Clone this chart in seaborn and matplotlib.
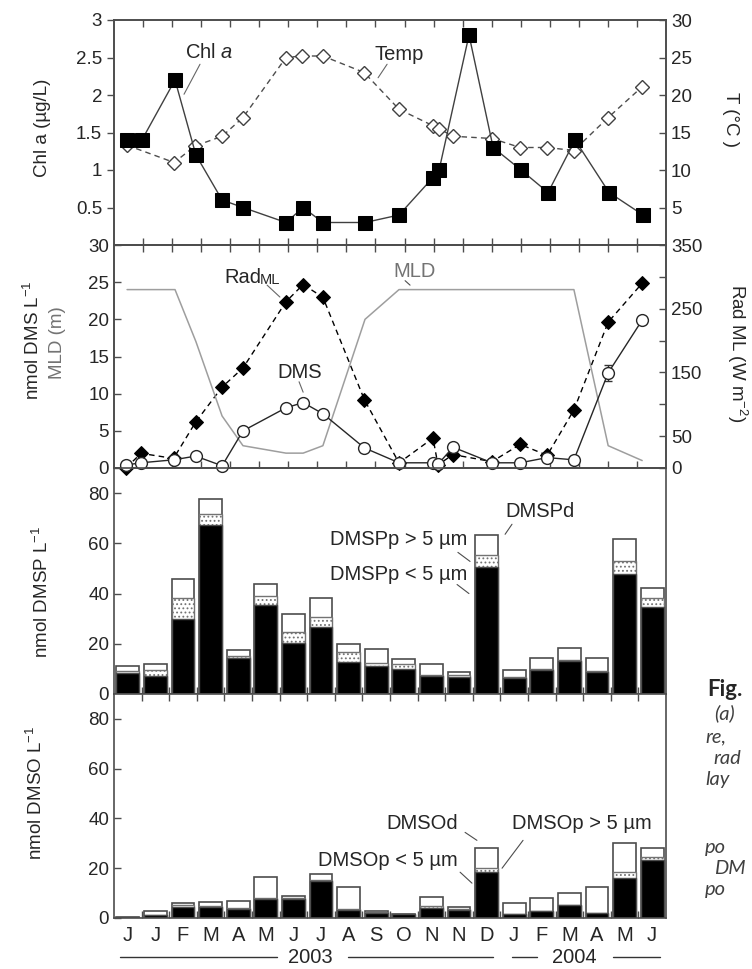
import matplotlib
matplotlib.use("Agg")
import matplotlib.pyplot as plt
import seaborn as sns
from matplotlib.lines import Line2D

sns.set_style("ticks")
plt.rcParams["font.family"] = ["Liberation Sans", "DejaVu Sans"]
plt.rcParams["mathtext.fontset"] = "custom"
plt.rcParams["mathtext.rm"] = "Liberation Sans"
plt.rcParams["mathtext.it"] = "Liberation Sans:italic"
plt.rcParams["hatch.linewidth"] = 0.8

# ---- panel a/b: sampling time in month units (axis 0..19) ----
chl_t = [0.45, 0.96, 2.10, 2.82, 3.72, 4.44, 5.92, 6.51, 7.19, 8.64,
         9.81, 10.98, 11.19, 12.22, 13.05, 14.01, 14.94, 15.87, 17.04, 18.21]
chl = [1.4, 1.4, 2.2, 1.2, 0.6, 0.5, 0.3, 0.5, 0.3, 0.3,
       0.4, 0.9, 1.0, 2.8, 1.3, 1.0, 0.7, 1.4, 0.7, 0.4]

temp_t = [0.45, 2.07, 2.79, 3.72, 4.44, 5.92, 6.47, 7.19, 8.61, 9.81,
          10.98, 11.19, 11.67, 13.01, 13.98, 14.91, 15.83, 17.01, 18.18]
temp = [13.3, 11.0, 13.2, 14.5, 17.0, 25.0, 25.2, 25.2, 23.0, 18.1,
        15.9, 15.5, 14.5, 14.2, 13.0, 13.0, 12.6, 17.0, 21.1]

samp_t = [0.41, 0.93, 2.05, 2.81, 3.72, 4.44, 5.92, 6.51, 7.19, 8.62,
          9.81, 10.98, 11.15, 11.67, 13.01, 13.98, 14.91, 15.83, 17.01, 18.18]
rad_ml = [0, 23, 15, 72, 127, 157, 261, 288, 268, 107,
          8, 47, 5, 21, 10, 37, 20, 91, 229, 290]
dms = [0.4, 0.7, 1.1, 1.6, 0.3, 5.0, 8.1, 8.8, 7.3, 2.7,
       0.7, 0.7, 0.5, 2.8, 0.7, 0.7, 1.4, 1.1, 12.8, 19.9]
dms_err = [0, 0, 0, 0, 0, 0, 0, 0, 0, 0,
           0, 0, 0, 0, 0, 0, 0, 0, 1.1, 0]

mld_t = [0.45, 2.10, 2.82, 3.72, 4.44, 5.92, 6.51, 7.19, 8.64, 9.81, 15.83, 17.01, 18.18]
mld = [24, 24, 17, 7, 3, 2, 2, 3, 20, 24, 24, 3, 1]

# ---- panel c/d: one bar per sampling date ----
months = ["J", "J", "F", "M", "A", "M", "J", "J", "A", "S",
          "O", "N", "N", "D", "J", "F", "M", "A", "M", "J"]

dmsp_small = [8.4, 7.2, 30.0, 67.2, 14.4, 35.6, 20.4, 26.8, 12.8, 11.2,
              10.0, 7.2, 6.8, 50.4, 6.4, 9.6, 13.2, 8.8, 47.6, 34.8]
dmsp_large = [0.6, 2.4, 8.4, 4.4, 0.6, 3.6, 4.4, 4.0, 4.0, 1.2,
              2.0, 0.4, 0.8, 4.8, 0.4, 0.3, 0.3, 0.3, 5.2, 3.6]
dmsp_d = [2.2, 2.4, 7.4, 6.0, 2.6, 4.8, 7.2, 7.6, 3.2, 5.6,
          2.0, 4.4, 1.2, 8.0, 2.8, 4.5, 4.9, 5.3, 8.8, 4.0]

dmso_small = [0.3, 1.2, 4.4, 4.4, 3.6, 7.6, 7.6, 14.8, 3.2, 2.0,
              1.5, 4.0, 3.2, 18.4, 1.6, 2.8, 5.2, 2.0, 16.0, 23.2]
dmso_large = [0.0, 0.2, 0.8, 0.6, 0.3, 0.3, 0.6, 0.3, 0.3, 0.3,
              0.0, 0.8, 0.4, 1.6, 0.2, 0.2, 0.2, 0.2, 2.4, 1.2]
dmso_d = [0.0, 1.4, 0.8, 1.4, 2.9, 8.5, 0.6, 2.5, 8.9, 0.5,
          0.3, 3.6, 0.8, 8.0, 4.2, 5.0, 4.6, 10.2, 11.6, 3.6]

FS = 13.5
EDGE = "0.3"

fig = plt.figure(figsize=(7.52, 9.69), dpi=100)


def add_panel(top, bottom):
    return fig.add_axes([114 / 752, 1 - bottom / 969, 552 / 752, (bottom - top) / 969])


ax1 = add_panel(20, 245)
ax2 = add_panel(245, 468)
ax3 = add_panel(468, 694)
ax4 = add_panel(694, 918)
ax1t = ax1.twinx()
ax2t = ax2.twinx()

# ---------------- panel 1: Chl a and temperature ----------------
sns.lineplot(x=temp_t, y=temp, ax=ax1t, color="0.3", lw=1, linestyle=(0, (4, 3)),
             marker="D", markersize=7, markerfacecolor="white", markeredgecolor="0.25",
             markeredgewidth=1, estimator=None, sort=False)
sns.lineplot(x=chl_t, y=chl, ax=ax1, color="0.25", lw=1, marker="s", markersize=9.5,
             markerfacecolor="black", markeredgecolor="black", estimator=None, sort=False)
ax1.set_zorder(ax1t.get_zorder() + 1)
ax1.patch.set_visible(False)

ax1.set_ylim(0, 3)
ax1.set_yticks([0.5, 1, 1.5, 2, 2.5, 3], ["0.5", "1", "1.5", "2", "2.5", "3"])
ax1t.set_ylim(0, 30)
ax1t.set_yticks([5, 10, 15, 20, 25, 30])
ax1.set_ylabel("Chl a (µg/L)", fontsize=FS)
ax1.yaxis.set_label_coords(-0.114, 0.52)
ax1t.set_ylabel("T (°C )", fontsize=FS, rotation=270, va="center")
ax1t.yaxis.set_label_coords(1.116, 0.556)

ax1.text(3.27, 2.57, "Chl $a$", fontsize=14.5, ha="center", va="center")
ax1.plot([2.96, 2.41], [2.41, 2.01], color="0.4", lw=0.8)
ax1.text(9.81, 2.54, "Temp", fontsize=14.5, ha="center", va="center")
ax1.plot([9.40, 9.09], [2.41, 2.23], color="0.4", lw=0.8)

# ---------------- panel 2: DMS, Rad ML, MLD ----------------
sns.lineplot(x=mld_t, y=mld, ax=ax2, color="0.62", lw=1.1, estimator=None, sort=False)
sns.lineplot(x=samp_t, y=rad_ml, ax=ax2t, color="black", lw=1, linestyle=(0, (4, 3)),
             marker="D", markersize=7, markerfacecolor="black", markeredgecolor="black",
             estimator=None, sort=False, clip_on=False)
err_x = [t for t, e in zip(samp_t, dms_err) if e > 0]
err_y = [v for v, e in zip(dms, dms_err) if e > 0]
err_e = [e for e in dms_err if e > 0]
ax2.errorbar(err_x, err_y, yerr=err_e, fmt="none", ecolor="0.2", elinewidth=1, capsize=3)
sns.lineplot(x=samp_t, y=dms, ax=ax2, color="0.15", lw=1, marker="o", markersize=8.5,
             markerfacecolor="white", markeredgecolor="0.15", markeredgewidth=1,
             estimator=None, sort=False, clip_on=False)
ax2.set_zorder(ax2t.get_zorder() + 1)
ax2.patch.set_visible(False)

ax2.set_ylim(0, 30)
ax2.set_yticks(range(0, 31, 5))
ax2t.set_ylim(0, 350)
ax2t.set_yticks(range(0, 351, 50), ["0", "50", "", "150", "", "250", "", "350"])
ax2.text(-0.147, 0.574, "nmol DMS L$^{-1}$", transform=ax2.transAxes, rotation=90,
         fontsize=FS, ha="center", va="center")
ax2.text(-0.103, 0.56, "MLD (m)", transform=ax2.transAxes, rotation=90,
         fontsize=FS, ha="center", va="center", color="0.45")
ax2t.set_ylabel("Rad ML (W m$^{-2}$)", fontsize=FS, rotation=270, va="center")
ax2t.yaxis.set_label_coords(1.128, 0.516)

ax2.text(4.42, 25.6, "Rad", fontsize=14.5, ha="center", va="center")
ax2.text(5.0, 25.35, "ML", fontsize=10.5, ha="left", va="center")
ax2.plot([5.27, 5.71], [24.6, 23.0], color="0.4", lw=0.8)
ax2.text(6.40, 12.8, "DMS", fontsize=14.5, ha="center", va="center")
ax2.plot([6.37, 6.51], [11.6, 10.2], color="0.4", lw=0.8)
ax2.text(10.33, 26.4, "MLD", fontsize=14.5, ha="center", va="center", color="0.45")
ax2.plot([10.02, 10.19], [25.2, 24.6], color="0.3", lw=0.8)

for a in (ax1, ax2):
    a.set_xlim(0, 19)
    a.set_xticks(range(1, 19))
    a.set_xticklabels([])
    a.set_xlabel("")
    a.tick_params(axis="x", which="major", direction="in", top=True, bottom=True,
                  length=5, width=1, color=EDGE)
ax1t.set_xlabel("")
ax2t.set_xlabel("")


# ---------------- panels 3/4: stacked bars ----------------
def stacked(ax, small, large, dis):
    idx = list(range(len(small)))
    cum_small = small
    cum_large = [s + l for s, l in zip(small, large)]
    total = [c + d for c, d in zip(cum_large, dis)]
    sns.barplot(x=idx, y=total, ax=ax, color="white", edgecolor=EDGE, linewidth=1.2,
                width=0.83, saturation=1, errorbar=None)
    sns.barplot(x=idx, y=cum_large, ax=ax, color="white", edgecolor="0.45", linewidth=1.0,
                width=0.83, saturation=1, errorbar=None, hatch="....")
    sns.barplot(x=idx, y=cum_small, ax=ax, color="black", edgecolor=EDGE, linewidth=1.0,
                width=0.83, saturation=1, errorbar=None)
    ax.set_xlim(-0.5, len(small) - 0.5)
    ax.set_ylim(0, 90)
    ax.set_yticks(range(0, 81, 20))
    ax.set_xticks([i + 0.5 for i in range(len(small) - 1)])
    ax.set_xticklabels([])
    ax.set_xlabel("")


stacked(ax3, dmsp_small, dmsp_large, dmsp_d)
stacked(ax4, dmso_small, dmso_large, dmso_d)

ax3.tick_params(axis="x", which="major", direction="in", top=False, bottom=True,
                length=5, width=1, color=EDGE)
ax4.tick_params(axis="x", which="major", direction="in", top=True, bottom=True,
                length=5, width=1, color=EDGE)
ax4.set_xticks(range(len(months)), months, minor=True)
ax4.tick_params(axis="x", which="minor", length=0, pad=6, labelsize=14.5)

ax3.set_ylabel("nmol DMSP L$^{-1}$", fontsize=FS)
ax3.yaxis.set_label_coords(-0.112, 0.45)
ax4.set_ylabel("nmol DMSO L$^{-1}$", fontsize=FS)
ax4.yaxis.set_label_coords(-0.123, 0.56)

ax3.text(14.93, 72.8, "DMSPd", fontsize=14.5, ha="center", va="center")
ax3.plot([13.92, 13.67], [67.6, 63.6], color="0.3", lw=0.8)
ax3.text(12.29, 61.6, "DMSPp > 5 µm", fontsize=14.5, ha="right", va="center")
ax3.plot([11.96, 12.40], [56.4, 52.8], color="0.3", lw=0.8)
ax3.text(12.29, 47.6, "DMSPp < 5 µm", fontsize=14.5, ha="right", va="center")
ax3.plot([11.93, 12.36], [43.6, 40.0], color="0.3", lw=0.8)

ax4.text(10.66, 38, "DMSOd", fontsize=14.5, ha="center", va="center")
ax4.plot([12.22, 12.65], [34.4, 31.2], color="0.3", lw=0.8)
ax4.text(16.46, 38, "DMSOp > 5 µm", fontsize=14.5, ha="center", va="center")
ax4.plot([14.32, 13.56], [31.2, 20.0], color="0.3", lw=0.8)
ax4.text(11.96, 23.2, "DMSOp < 5 µm", fontsize=14.5, ha="right", va="center")
ax4.plot([12.04, 12.47], [18.4, 14.0], color="0.3", lw=0.8)

# year brackets below the month letters
ytr = ax4.get_xaxis_transform()
yy = -0.175
for x0, x1 in [(-0.28, 5.41), (7.98, 13.23), (13.92, 14.83), (17.58, 19.28)]:
    ax4.add_line(Line2D([x0, x1], [yy, yy], transform=ytr, color="0.2", lw=1, clip_on=False))
ax4.text(6.6, yy, "2003", transform=ytr, fontsize=14.5, ha="center", va="center")
ax4.text(16.17, yy, "2004", transform=ytr, fontsize=14.5, ha="center", va="center")

# ---------------- common styling ----------------
for a in (ax1, ax2, ax3, ax4, ax1t, ax2t):
    for s in a.spines.values():
        s.set_visible(True)
        s.set_color(EDGE)
        s.set_linewidth(1.2)
    a.tick_params(axis="y", labelsize=FS, length=5, width=1, color=EDGE)
ax1.tick_params(axis="y", direction="out")
for a in (ax2, ax3, ax4, ax1t, ax2t):
    a.tick_params(axis="y", direction="in")

# caption text at the right edge of the page
fig.text(707 / 752, 1 - 690 / 969, "Fig.", fontsize=16, fontweight="bold",
         family=["Lato", "DejaVu Sans"], va="center", ha="left")
cap = [(714, 713, "(a)"), (705, 737, "re,"), (713, 758, "rad"), (705, 779, "lay"),
       (705, 847, "po"), (714, 868, "DM"), (705, 890, "po")]
for px, py, s in cap:
    fig.text(px / 752, 1 - py / 969, s, fontsize=14.5, style="italic", color="0.25",
             family=["Lato", "DejaVu Sans"], va="center", ha="left")

fig.savefig("out.png", dpi=100)
